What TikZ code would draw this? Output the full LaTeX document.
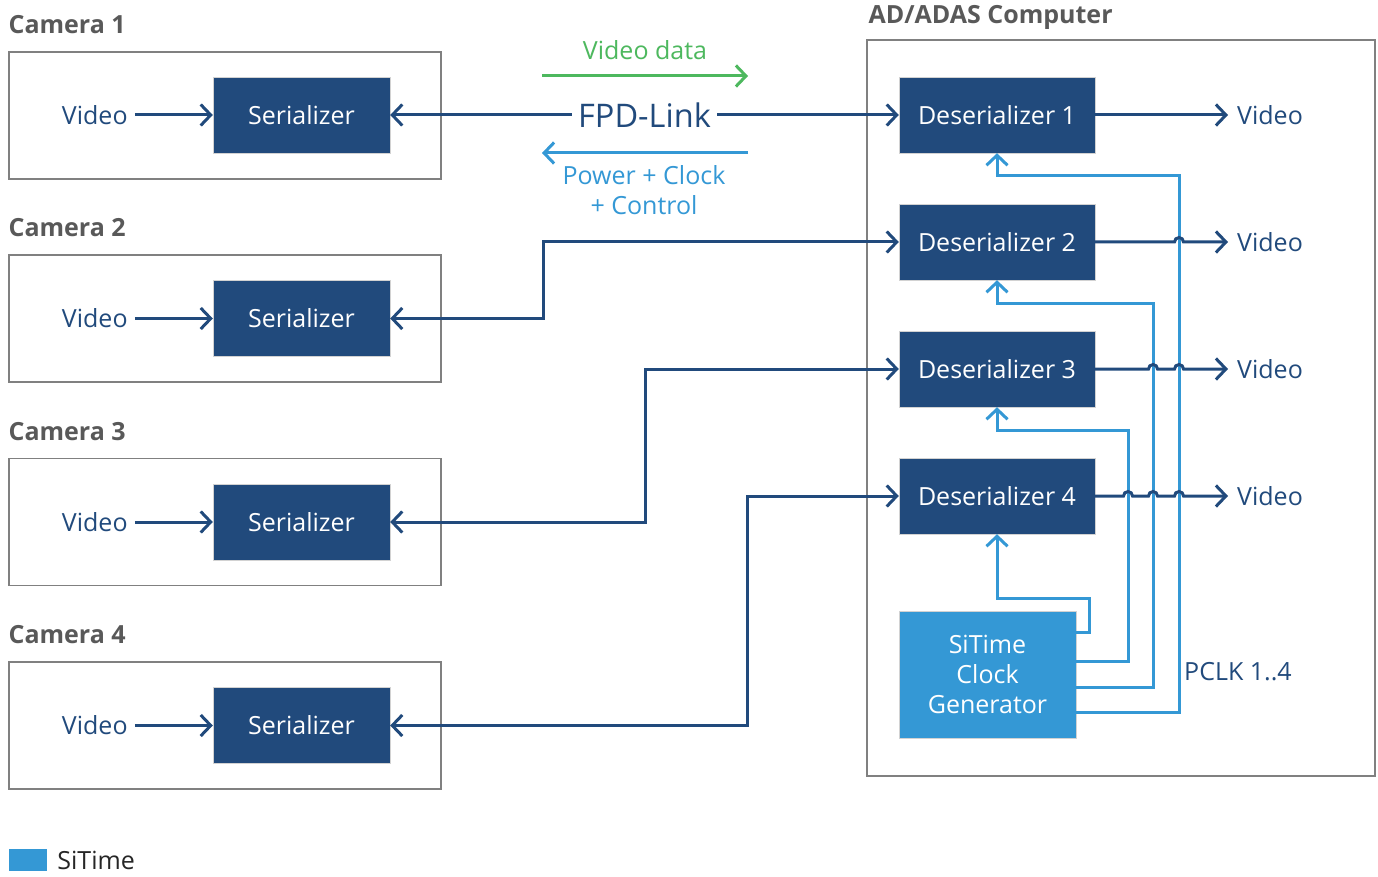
\documentclass[tikz,border=0pt]{standalone}
\usepackage{fontspec}
\setmainfont{Open Sans}
\usepackage{tikz}
\usetikzlibrary{positioning}
\usetikzlibrary{calc}
\usetikzlibrary{arrows.meta}
\definecolor{darkblue}{HTML}{214A7C}
\definecolor{skyblue}{HTML}{3498D5}
\definecolor{vgreen}{HTML}{4DB85E}
\definecolor{labelgray}{HTML}{595959}
\tikzstyle{camera} = [draw=gray, line width=1.2pt, rectangle, minimum height=127pt, minimum width=432pt]
\tikzstyle{block} = [draw=gray!35, fill=darkblue, text=white, rectangle, minimum height=76pt, minimum width=177pt, font=\fontsize{25}{29}\selectfont]
\tikzstyle{dblock} = [block, minimum width=196pt]
\tikzstyle{clock} = [draw=gray!35, fill=skyblue, text=white, rectangle, minimum height=127pt, minimum width=177pt, align=center, font=\fontsize{25}{30}\selectfont]
\tikzstyle{vid} = [inner xsep=7pt, inner ysep=0pt, text=darkblue, font=\fontsize{25}{29}\selectfont]
\tikzstyle{camlabel} = [inner sep=0pt, text=labelgray, font=\fontsize{25}{29}\selectfont\bfseries]
\tikzstyle{link} = [draw=darkblue, line width=3pt, ->]
\tikzstyle{clk} = [draw=skyblue, line width=3pt, ->]
\tikzstyle{input} = [coordinate]
\tikzstyle{output} = [coordinate]

\begin{document}
\begin{tikzpicture}[x=1pt,y=-1pt,>={Straight Barb[length=10pt,width=21pt]}]
    \useasboundingbox (0,0) rectangle (1378,877);

    % cameras
    \node [camera] (cam1) at (225,115.5) {};
    \node [camera] (cam2) at (225,318.5) {};
    \node [camera] (cam3) at (225,522) {};
    \node [camera] (cam4) at (225,725.5) {};
    \node [camlabel, above right=17pt and 0pt of cam1.north west] {Camera 1};
    \node [camlabel, above right=17pt and 0pt of cam2.north west] {Camera 2};
    \node [camlabel, above right=17pt and 0pt of cam3.north west] {Camera 3};
    \node [camlabel, above right=17pt and 0pt of cam4.north west] {Camera 4};

    \node [block] (ser1) at (301.5,115) {Serializer};
    \node [block] (ser2) at (301.5,318.5) {Serializer};
    \node [block] (ser3) at (301.5,522) {Serializer};
    \node [block] (ser4) at (301.5,725.5) {Serializer};
    \node [vid, left=78pt of ser1] (vid1) {Video};
    \node [vid, left=78pt of ser2] (vid2) {Video};
    \node [vid, left=78pt of ser3] (vid3) {Video};
    \node [vid, left=78pt of ser4] (vid4) {Video};
    \draw [link] (vid1) -- (ser1);
    \draw [link] (vid2) -- (ser2);
    \draw [link] (vid3) -- (ser3);
    \draw [link] (vid4) -- (ser4);

    % computer
    \node [camera, minimum width=508pt, minimum height=736pt] (adas) at (1121,408) {};
    \node [camlabel, above right=10pt and 2pt of adas.north west] {AD/ADAS Computer};

    \node [dblock] (des1) at (997,115) {Deserializer 1};
    \node [dblock] (des2) at (997,242) {Deserializer 2};
    \node [dblock] (des3) at (997,369) {Deserializer 3};
    \node [dblock] (des4) at (997,496) {Deserializer 4};
    \node [clock] (gen) at (987.5,674.5) {SiTime\\Clock\\Generator};

    \node [output] (out1) at (1228,115) {};
    \node [output] (out2) at (1228,242) {};
    \node [output] (out3) at (1228,369) {};
    \node [output] (out4) at (1228,496) {};
    \node [vid, inner sep=0pt, right=9pt of out1] {Video};
    \node [vid, inner sep=0pt, right=9pt of out2] {Video};
    \node [vid, inner sep=0pt, right=9pt of out3] {Video};
    \node [vid, inner sep=0pt, right=9pt of out4] {Video};

    % clock lines to the deserializers
    \draw [clk] ([yshift=42.5pt]gen.east) -| (1089,598) -| (des4.south);
    \draw [clk] ([yshift=13.5pt]gen.east) -| (1128,430) -| (des3.south);
    \draw [clk] ([yshift=-12.5pt]gen.east) -| (1153,303) -| (des2.south);
    \draw [clk] ([yshift=-37.5pt]gen.east) -| (1179,176) -| (des1.south);
    \node [vid, inner sep=0pt, anchor=west] at (1184,672) {PCLK 1..4};

    % video out, hopping over the clock lines
    \draw [link] (des1.east) -- (out1);
    \draw [link] (des2.east) -- (1174.5,242) arc (180:360:4.5) -- (out2);
    \draw [link] (des3.east) -- (1148.5,369) arc (180:360:4.5) -- (1174.5,369) arc (180:360:4.5) -- (out3);
    \draw [link] (des4.east) -- (1123.5,496) arc (180:360:4.5) -- (1148.5,496) arc (180:360:4.5) -- (1174.5,496) arc (180:360:4.5) -- (out4);

    % links
    \draw [link, <->] (ser1) -- node[fill=white, inner xsep=6pt, text=darkblue, font=\fontsize{32.5}{36}\selectfont] {FPD-Link} (des1);
    \draw [link, <->] (ser2.east) -| (543,242) -- (des2.west);
    \draw [link, <->] (ser3.east) -| (645,369) -- (des3.west);
    \draw [link, <->] (ser4.east) -| (747,496) -- (des4.west);

    \node [input] (vdl) at (542,76) {};
    \node [output] (vdr) at (748,76) {};
    \draw [link, draw=vgreen] (vdl) -- node[above=15pt, inner sep=0pt, text=vgreen, font=\fontsize{25}{29}\selectfont] {Video data} (vdr);
    \node [input] (pcr) at (748,153) {};
    \node [output] (pcl) at (542,153) {};
    \draw [clk] (pcr) -- (pcl);
    \node [align=center, text=skyblue, font=\fontsize{25}{30}\selectfont] at (644,190) {Power + Clock\\+ Control};

    % legend
    \node [fill=skyblue, minimum width=38pt, minimum height=22pt, inner sep=0pt] (leg) at (28,860) {};
    \node [right=10pt of leg, inner sep=0pt, text=black!85, font=\fontsize{25}{29}\selectfont] {SiTime};
\end{tikzpicture}
\end{document}
